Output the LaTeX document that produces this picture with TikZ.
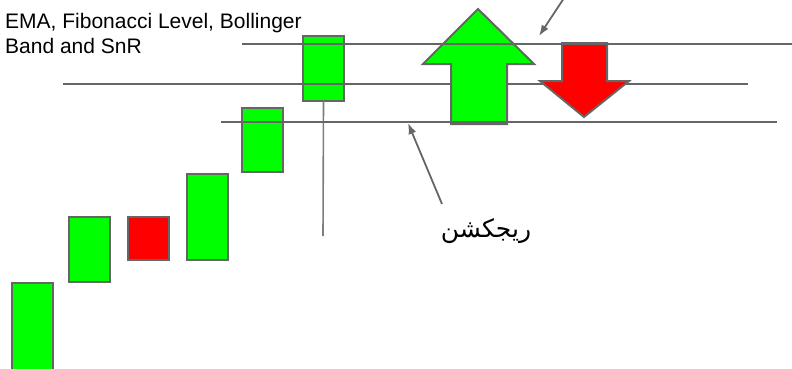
\documentclass[tikz,border=0pt]{standalone}
\usepackage{fontspec}
\setmainfont{Liberation Sans}
\newfontfamily\arabicfont[Script=Arabic]{DejaVu Sans}
\TeXXeTstate=1
\usetikzlibrary{arrows.meta}
\definecolor{BullGreen}{RGB}{0,255,0}
\definecolor{BearRed}{RGB}{255,0,0}
\definecolor{LevelGray}{RGB}{102,102,102}

\begin{document}
\begin{tikzpicture}[
          x=1pt, y=-1pt,
          candle/.style={rectangle, draw=LevelGray, line width=2pt, inner sep=0pt, outer sep=0pt, anchor=north west},
          bull/.style={candle, fill=BullGreen},
          bear/.style={candle, fill=BearRed},
          level/.style={LevelGray, line width=1.8pt},
          wick/.style={LevelGray!85, line width=1.6pt},
          pointer/.style={-{Latex[length=11pt, width=8pt]}, LevelGray, line width=1.8pt},
          bigarrow/.style={draw=LevelGray, line width=2pt, line join=miter}
        ]
          \useasboundingbox (0,0) rectangle (792,368);

          % candles
          \node (candleA) [bull, minimum width=41pt, minimum height=92pt] at (12,283) {};
          \node (candleB) [bull, minimum width=41pt, minimum height=65pt] at (69,217) {};
          \node (candleC) [bear, minimum width=41pt, minimum height=43pt] at (128,217) {};
          \node (candleD) [bull, minimum width=41pt, minimum height=86pt] at (187,174) {};
          \node (candleE) [bull, minimum width=41pt, minimum height=64pt] at (242,108) {};
          \node (candleF) [bull, minimum width=41pt, minimum height=65pt] at (303,36) {};
          \coordinate (wickend) at (323,236);
          \draw [wick] (candleF.south) -- (wickend);

          % middle level
          \draw [level] (63,84) -- (748,84);

          % buy / sell arrows
          \draw [bigarrow, fill=BullGreen] (478,9) -- (534,64) -- (507,64) -- (507,124) -- (451,124) -- (451,64) -- (423,64) -- cycle;
          \draw [bigarrow, fill=BearRed] (562,43) -- (607,43) -- (607,81) -- (629,81) -- (584,117) -- (540,81) -- (562,81) -- cycle;

          % upper and lower levels
          \draw [level] (242,44) -- (792,44);
          \draw [level] (221,122) -- (777,122);

          % labels
          \node (levels) [anchor=north west, inner sep=0pt, align=left, font=\fontsize{21}{25.5}\selectfont] at (5,13) {EMA, Fibonacci Level, Bollinger\\Band and SnR};
          \node (rejection) [inner sep=0pt, font=\fontsize{25}{30}\selectfont] at (486,231) {\arabicfont\beginR ريجكشن\endR};

          % pointers
          \coordinate (toptail) at (568,-8);
          \coordinate (toptip) at (539,36);
          \coordinate (rejtail) at (442,204);
          \coordinate (rejtip) at (408,123);
          \draw [pointer] (toptail) -- (toptip);
          \draw [pointer] (rejtail) -- (rejtip);
        \end{tikzpicture}
\end{document}
